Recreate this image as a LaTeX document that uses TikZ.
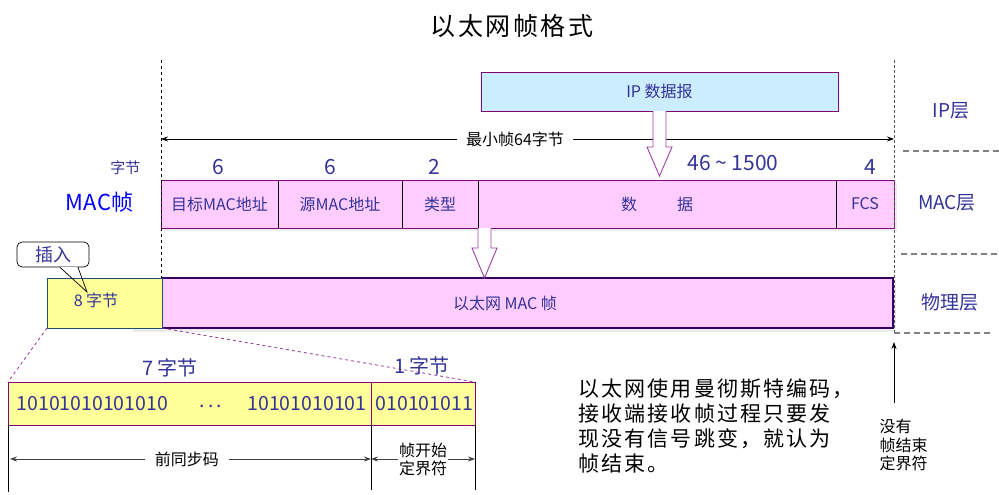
\documentclass[tikz,border=0pt]{standalone}
\usepackage{fontspec}
\setmainfont{Noto Sans CJK SC}
\newfontfamily\wide[LetterSpace=10]{Noto Sans CJK SC}
\usetikzlibrary{arrows.meta,positioning}
\definecolor{txtc}{RGB}{51,51,153}
\definecolor{macb}{RGB}{0,0,255}
\definecolor{pinkc}{RGB}{255,204,255}
\definecolor{ipc}{RGB}{204,236,255}
\definecolor{yelc}{RGB}{255,255,153}
\definecolor{purp}{RGB}{128,0,128}
\definecolor{arrc}{RGB}{160,64,160}
\definecolor{physc}{RGB}{51,0,102}
\definecolor{prec}{RGB}{31,78,121}
\newcommand{\fs}[1]{\fontsize{#1}{#1}\selectfont}
\tikzset{
  fld/.style={draw=black, line width=0.7pt, fill=pinkc, minimum height=48pt,
    inner sep=0pt, outer sep=0pt, text=txtc, font=\fs{16}},
  bx/.style={line width=0.9pt, anchor=north west, inner sep=0pt, outer sep=0pt},
  num/.style={text=txtc, font=\fs{21}},
  bin/.style={text=txtc, font=\fs{19.5}},
  lay/.style={text=txtc, font=\fs{19}},
  sep/.style={gray, line width=1.2pt, dash pattern=on 6pt off 4pt},
  dim/.style={{Stealth[length=7pt,width=5pt]}-{Stealth[length=7pt,width=5pt]}, line width=0.7pt},
  hol/.style={draw=arrc, fill=white, line width=0.9pt},
}
\begin{document}
\begin{tikzpicture}[x=1pt,y=-1pt,font=\fs{15}]
\useasboundingbox (0,0) rectangle (999,495);
\node[font=\fs{25}\wide] (title) at (512,26) {以太网帧格式};
% shadows
\fill[gray!15] (164,183) rectangle (897,231);
\fill[gray!15] (133,281) rectangle (896,332);
% IP layer
\node[bx, draw=purp, fill=ipc, minimum width=357pt, minimum height=39pt, text=txtc, font=\fs{16}] (ip) at (481,72) {IP 数据报};
\coordinate (dl) at (161,139);
\coordinate (dr) at (894,139);
\draw[dim] (dl) -- (dr) node[pos=0.483, fill=white, inner xsep=9pt, font=\fs{16}] (minf) {最小帧64字节};
\draw[hol] ([xshift=-6.5pt]ip.south) -- ++(0,36) -- ++(-6,0) -- ++(12.5,29) -- ++(12.5,-29) -- ++(-6,0) -- ++(0,-36);
% MAC layer
\node[fld, minimum width=117pt, anchor=north west] (dst) at (161,180) {目标MAC地址};
\node[fld, minimum width=124pt, right=0pt of dst] (src) {源MAC地址};
\node[fld, minimum width=76pt, right=0pt of src] (typ) {类型};
\node[fld, minimum width=358pt, right=0pt of typ] (dat) {数\hspace{40pt}据};
\node[fld, minimum width=58pt, right=0pt of dat] (fcs) {FCS};
\draw[purp, line width=0.9pt] (dst.north west) rectangle (fcs.south east);
\foreach \x/\t in {218/6, 330/6, 434/2, 870/4}{
  \node[num] (n\x) at (\x,167) {\t};
}
\node[num] (nd) at (733,163) {46 \textasciitilde\ 1500};
\node[text=txtc, anchor=east] (byt) at (144,168) {字节};
\node[font=\fs{22}, text=macb] (macl) at (99.5,202) {MAC帧};
% physical layer
\node[bx, draw=physc, line width=1.6pt, fill=pinkc, minimum width=731pt, minimum height=50pt] (eth) at (162,278) {};
\node[bx, draw=prec, fill=yelc, minimum width=115pt, minimum height=50pt] (pre) at (47,278) {};
\node[text=txtc, font=\fs{16}] (ethl) at (505,303) {以太网 MAC 帧};
\node[text=txtc, font=\fs{16}] (prel) at (96,300) {8 字节};
\draw[hol] (dat.south west) -- ++(0,20) -- ++(-6,0) -- ++(12.5,30) -- ++(12.5,-30) -- ++(-6,0) -- ++(0,-20);
% callout
\node[draw, rounded corners=5pt, fill=white, minimum width=72pt, minimum height=25pt,
  line width=0.7pt, text=txtc, font=\fs{18}] (ins) at (53,254.5) {插入};
\coordinate (tip) at (87,292);
\draw[line width=0.7pt] ([xshift=7pt]ins.south) -- (tip) -- ([xshift=25pt]ins.south);
\draw[white, line width=1pt] ([xshift=7.6pt]ins.south) -- ([xshift=24.4pt]ins.south);
% guides
\coordinate (gl) at (161,60);
\coordinate (gr) at (894,60);
\draw[dash pattern=on 3pt off 3pt, line width=0.8pt] (gl) -- (gl |- eth.north);
\draw[gray!70!black, dash pattern=on 3pt off 2pt, line width=1pt] (gr) -- (894,333);
\draw[sep] (903,151) -- (999,151) (901,254) -- (999,254) (894,333) -- (990,333);
\node[lay] (lip) at (951,111) {IP层};
\node[lay] (lmac) at (947,203) {MAC层};
\node[lay] (lphy) at (950,302) {物理层};
% preamble
\node[bx, draw=purp, fill=yelc, minimum width=363pt, minimum height=43pt] (b1) at (8,382) {};
\node[bx, draw=purp, fill=yelc, minimum width=104pt, minimum height=43pt, right=0pt of b1] (b2) {};
\draw[purp!80, dashed, line width=0.8pt] (pre.south west) -- (b1.north west) (pre.south east) -- (b2.north east);
\node[bin, anchor=west] (s1) at (13,404) {10101010101010};
\node[bin] (dots) at (211,406) {.\,.\,.};
\node[bin, anchor=east] (s2) at (370,404) {10101010101};
\node[bin, anchor=west] (s3) at (372,404) {010101011};
\node[num, font=\fs{20}] (b7) at (170,368) {7 字节};
\node[num, font=\fs{20}] (b8) at (422,366) {1 字节};
\draw[line width=0.7pt] (b1.south west) -- ++(0,67) (b1.south east) -- ++(0,65) (b2.south east) -- ++(0,65);
\coordinate (p1) at (10,459);
\coordinate (p2) at (371,459);
\coordinate (p3) at (475,459);
\draw[dim, black!75] (p1) -- (p2) node[pos=0.49, fill=white, inner xsep=10pt, text=black, font=\fs{16}] (syn) {前同步码};
\draw[dim, black!75] (p2) -- (p3) node[midway, fill=white, align=center, inner sep=1pt, text=black,
  font=\fontsize{16}{18}\selectfont] (sfd) {帧开始\\定界符};
% notes
\foreach \t [count=\i] in {以太网使用曼彻斯特编码，,接收端接收帧过程只要发,现没有信号跳变，就认为,帧结束。}{
  \node[anchor=west, font=\fs{21}\wide] (ln\i) at (575,{389+(\i-1)*24.7}) {\t};
}
\coordinate (ua) at (894,403);
\coordinate (ub) at (894,342);
\draw[-{Stealth[length=7pt,width=5pt]}, line width=0.7pt] (ua) -- (ub);
\node[anchor=west, align=left, font=\fontsize{16}{18.5}\selectfont] (nofcs) at (876,445) {没有\\帧结束\\定界符};
\end{tikzpicture}
\end{document}
